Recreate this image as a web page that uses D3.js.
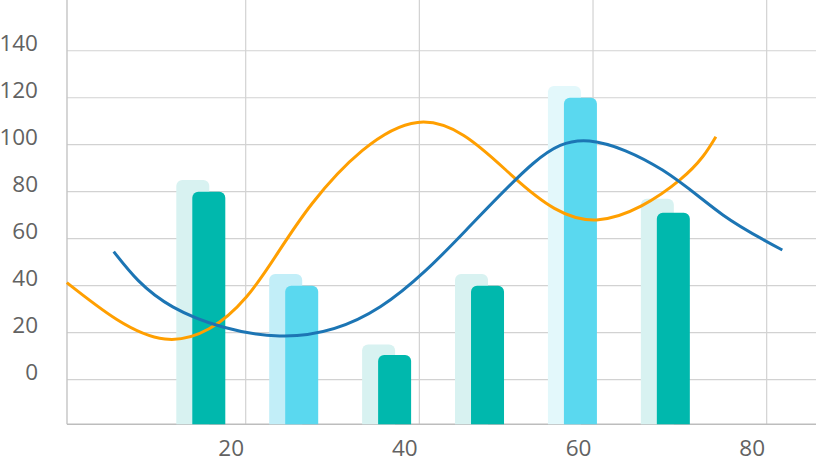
<!DOCTYPE html>
<html>
<head>
<meta charset="utf-8">
<script src="https://cdn.jsdelivr.net/npm/d3@7"></script>
<style>
  body { margin: 0; background: #fff; }
  text { font-family: "Open Sans", sans-serif; font-size: 22.5px; fill: #626262; }
</style>
</head>
<body>
<div class="wrapper"></div>
<script>
const width = 816;
const height = 463;

// bars: position on the x axis, front value, value of the pale bar behind
const barX = [15.75, 26.45, 37.15, 47.85, 58.55, 69.25];
const barFront = [80, 40, 10.5, 40, 120, 71];
const barBack = [85, 45, 15, 45, 125, 77];
const barKind = ["teal", "cyan", "teal", "teal", "cyan", "teal"];

// two smooth lines, [x, value]
const orangeLine = [
  [-0.6, 41.3], [10.7, 17.3], [20.1, 35.3], [27.7, 75.2], [39.8, 109.5],
  [50.8, 86.4], [60.4, 68], [70, 85], [74.15, 103.4]
];
const blueLine = [
  [4.8, 54.5], [11.6, 31], [23.9, 18.6], [35.5, 31], [45.4, 63.7],
  [53.1, 92], [59.6, 101.6], [68, 89.2], [75, 70], [81.8, 55.2]
];

const xTicks = [20, 40, 60, 80];
const yTicks = [0, 20, 40, 60, 80, 100, 120, 140];

const plot = { left: 67, right: 816, top: 0, bottom: 424.3 };
const barW = 33;
const backShift = 16;
const radius = 6;

const colors = {
  teal: { front: "#00b8ad", back: "#d8f2f1" },
  cyan: { front: "#5ad8ef", back: "#c2eef8" }
};
const backOverride = { 4: "#e3f8fb" };

const x = d3.scaleLinear().domain([-0.58, 85.68]).range([plot.left, plot.right]);
const y = d3.scaleLinear().domain([-19, 161.6]).range([plot.bottom, plot.top]);

const svg = d3.select(".wrapper")
  .append("svg")
  .attr("width", width)
  .attr("height", height)
  .attr("viewBox", [0, 0, width, height]);

// grid
const grid = svg.append("g").attr("stroke", "#d2d2d2").attr("stroke-width", 1.2);
grid.selectAll(".h")
  .data(yTicks)
  .join("line")
  .attr("x1", plot.left)
  .attr("x2", plot.right)
  .attr("y1", (d) => y(d))
  .attr("y2", (d) => y(d));
grid.selectAll(".v")
  .data(xTicks)
  .join("line")
  .attr("x1", (d) => x(d))
  .attr("x2", (d) => x(d))
  .attr("y1", plot.top)
  .attr("y2", plot.bottom);

svg.append("line")
  .attr("x1", plot.left).attr("x2", plot.left)
  .attr("y1", plot.top).attr("y2", plot.bottom)
  .attr("stroke", "#c4c4c4").attr("stroke-width", 1.4);
svg.append("line")
  .attr("x1", plot.left).attr("x2", plot.right)
  .attr("y1", plot.bottom).attr("y2", plot.bottom)
  .attr("stroke", "#bdbdbd").attr("stroke-width", 1.4);

// bar with rounded top corners
const topRounded = (x0, y0, w, h, r) => {
  const p = d3.path();
  p.moveTo(x0, y0 + h);
  p.lineTo(x0, y0 + r);
  p.arcTo(x0, y0, x0 + r, y0, r);
  p.lineTo(x0 + w - r, y0);
  p.arcTo(x0 + w, y0, x0 + w, y0 + r, r);
  p.lineTo(x0 + w, y0 + h);
  p.closePath();
  return p.toString();
};

const bars = barX.map((bx, i) => ({ bx, front: barFront[i], back: barBack[i], kind: barKind[i], i }));

svg.append("g")
  .selectAll("path")
  .data(bars)
  .join("path")
  .attr("fill", (d) => backOverride[d.i] || colors[d.kind].back)
  .attr("d", (d) => topRounded(x(d.bx) - barW / 2 - backShift, y(d.back), barW, plot.bottom - y(d.back), radius));

svg.append("g")
  .selectAll("path")
  .data(bars)
  .join("path")
  .attr("fill", (d) => colors[d.kind].front)
  .attr("d", (d) => topRounded(x(d.bx) - barW / 2, y(d.front), barW, plot.bottom - y(d.front), radius));

// lines
const line = d3.line()
  .x((d) => x(d[0]))
  .y((d) => y(d[1]))
  .curve(d3.curveNatural);

svg.append("path")
  .datum(orangeLine)
  .attr("fill", "none")
  .attr("stroke", "#ff9f00")
  .attr("stroke-width", 3)
  .attr("d", line);

svg.append("path")
  .datum(blueLine)
  .attr("fill", "none")
  .attr("stroke", "#1c75b4")
  .attr("stroke-width", 3)
  .attr("d", line);

// labels
svg.append("g")
  .selectAll("text")
  .data(yTicks)
  .join("text")
  .attr("x", 38)
  .attr("y", (d) => y(d))
  .attr("text-anchor", "end")
  .text((d) => d);

svg.append("g")
  .selectAll("text")
  .data(xTicks)
  .join("text")
  .attr("x", (d) => x(d) - 14.5)
  .attr("y", 456)
  .attr("text-anchor", "middle")
  .text((d) => d);
</script>
</body>
</html>
